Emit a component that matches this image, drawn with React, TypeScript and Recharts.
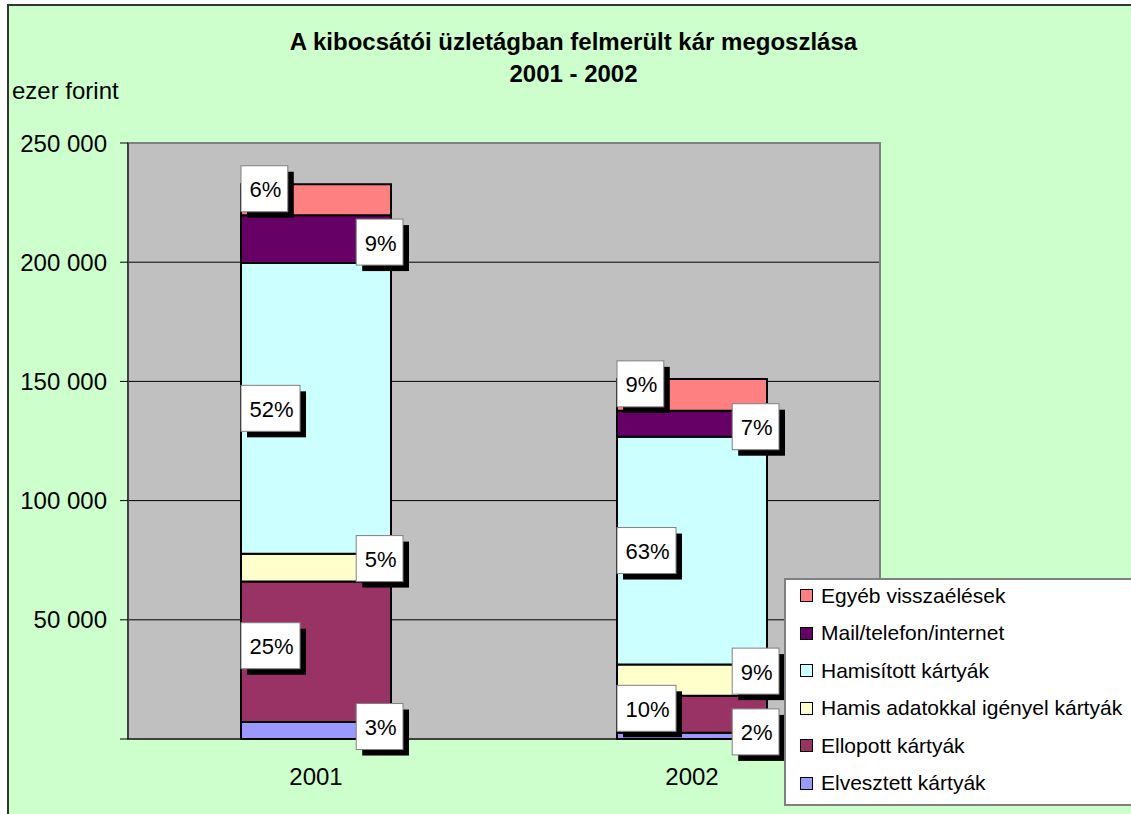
import React from 'react';
import { BarChart, Bar, XAxis, YAxis, CartesianGrid, Legend, LabelList, ReferenceArea } from 'recharts';

// ---- data ----
const categories = ['2001', '2002'];
const elvesztett = [7100, 2600];
const ellopott = [59000, 15500];
const hamisAdat = [11600, 13200];
const hamisitott = [122000, 95500];
const mail = [20000, 10900];
const egyeb = [13000, 13300];
const yTicks = [0, 50000, 100000, 150000, 200000, 250000];

const seriesNames = {
  elvesztett: 'Elvesztett kártyák',
  ellopott: 'Ellopott kártyák',
  hamisAdat: 'Hamis adatokkal igényel kártyák',
  hamisitott: 'Hamisított kártyák',
  mail: 'Mail/telefon/internet',
  egyeb: 'Egyéb visszaélések',
};

const data = categories.map((c, i) => ({
  year: c,
  elvesztett: elvesztett[i],
  ellopott: ellopott[i],
  hamisAdat: hamisAdat[i],
  hamisitott: hamisitott[i],
  mail: mail[i],
  egyeb: egyeb[i],
}));
const totals = categories.map((_, i) =>
  elvesztett[i] + ellopott[i] + hamisAdat[i] + hamisitott[i] + mail[i] + egyeb[i]
);

// ---- styling ----
const FONT = '"Liberation Sans", Arial, sans-serif';
const LABEL_FS = 22;
const series = [
  { key: 'elvesztett', color: '#9999FF', side: 'right', dy: -4 },
  { key: 'ellopott', color: '#993366', side: 'left', dy: -6 },
  { key: 'hamisAdat', color: '#FFFFCC', side: 'right', dy: -9 },
  { key: 'hamisitott', color: '#CCFFFF', side: 'left', dy: 0 },
  { key: 'mail', color: '#660066', side: 'right', dy: 3 },
  { key: 'egyeb', color: '#FF8080', side: 'left', dy: -11 },
];

const charW = (s: string) =>
  s.split('').reduce((a, ch) => a + (ch === '%' ? 0.889 : 0.556), 0) * LABEL_FS;

const makeLabel = (key: string, side: string, dy: number) => (props: any) => {
  const { x, y, width, height, index } = props;
  const row: any = data[index];
  if (!row) return null;
  const pct = Math.round((row[key] / totals[index]) * 100) + '%';
  const top = Math.min(y, y + height);
  const h = Math.abs(height);
  const bw = charW(pct) + 15;
  const bh = 46;
  const bx = side === 'left' ? x : x + width + 12 - bw;
  const cy = top + h / 2 + dy;
  const by = cy - bh / 2;
  return (
    <g>
      <rect x={bx + 6} y={by + 6} width={bw} height={bh} fill="#000" />
      <rect x={bx} y={by} width={bw} height={bh} fill="#fff" stroke="#808080" strokeWidth={1} />
      <text x={bx + bw / 2 + 1} y={cy + 1} textAnchor="middle" dominantBaseline="central"
        fontSize={LABEL_FS} fontFamily={FONT} fill="#000">{pct}</text>
    </g>
  );
};

const fmt = (v: number) => {
  if (v === 0) return '';
  const s = String(v);
  return s.replace(/\B(?=(\d{3})+(?!\d))/g, ' ');
};

const renderLegend = () => {
  const items = [...series].reverse();
  return (
    <div style={{ background: '#fff', border: '2px solid #808080', width: 360, height: 228,
      boxSizing: 'border-box', fontFamily: FONT, fontSize: 21, color: '#000', overflow: 'hidden' }}>
      <div style={{ marginTop: -3 }}>
        {items.map((it) => (
          <div key={it.key} style={{ display: 'flex', alignItems: 'center', height: 37.5 }}>
            <span style={{ display: 'inline-block', width: 11, height: 11, background: it.color,
              border: '1px solid #000', marginLeft: 14, marginRight: 8 }} />
            <span style={{ whiteSpace: 'nowrap' }}>{(seriesNames as any)[it.key]}</span>
          </div>
        ))}
      </div>
    </div>
  );
};

export default function App() {
  return (
    <div style={{ position: 'fixed', left: 0, top: 0, width: 1131, height: 814, overflow: 'hidden',
      background: '#fff', fontFamily: FONT }}>
      <div style={{ position: 'absolute', left: 7, top: 4, width: 1150, height: 840,
        background: '#CCFFCC', border: '2px solid #333' }} />
      <div style={{ position: 'absolute', left: 0, top: 26, width: 1147, textAlign: 'center',
        fontWeight: 'bold', fontSize: 24, lineHeight: '32px', color: '#000' }}>
        A kibocsátói üzletágban felmerült kár megoszlása<br />2001 - 2002
      </div>
      <div style={{ position: 'absolute', left: 12, top: 77, fontSize: 24, color: '#000', lineHeight: '28px' }}>
        ezer forint
      </div>
      <div style={{ position: 'absolute', left: 0, top: 0 }}>
        <BarChart width={1131} height={814} data={data}
          margin={{ top: 143, right: 251, bottom: 45, left: 28 }}
          style={{ fontFamily: FONT }}>
          <CartesianGrid vertical={false} stroke="#000" strokeWidth={1} fill="#C0C0C0" fillOpacity={1} />
          <ReferenceArea x1="2001" x2="2002" y1={0} y2={250000} fill="none" stroke="#808080"
            strokeWidth={2} />
          <XAxis dataKey="year" axisLine={{ stroke: '#000', strokeWidth: 1 }} tickLine={false}
            tickSize={0} tickMargin={29} height={30}
            tick={{ fontSize: 24, fill: '#000', fontFamily: FONT }} />
          <YAxis domain={[0, 250000]} ticks={yTicks} interval={0} tickFormatter={fmt} width={100}
            axisLine={{ stroke: '#000', strokeWidth: 1 }} tickLine={{ stroke: '#000' }}
            tickSize={8} tickMargin={13}
            tick={{ fontSize: 24, fill: '#000', fontFamily: FONT }} />
          <Legend content={renderLegend} layout="horizontal" verticalAlign="middle" align="center"
            wrapperStyle={{ position: 'absolute', left: 784, top: 578, width: 360, height: 228 }} />
          {series.map((s) => (
            <Bar key={s.key} dataKey={s.key} name={(seriesNames as any)[s.key]} stackId="a"
              fill={s.color} stroke="#000" strokeWidth={2} barSize={150} isAnimationActive={false}>
              <LabelList dataKey={s.key} content={makeLabel(s.key, s.side, s.dy)} />
            </Bar>
          ))}
        </BarChart>
      </div>
    </div>
  );
}
